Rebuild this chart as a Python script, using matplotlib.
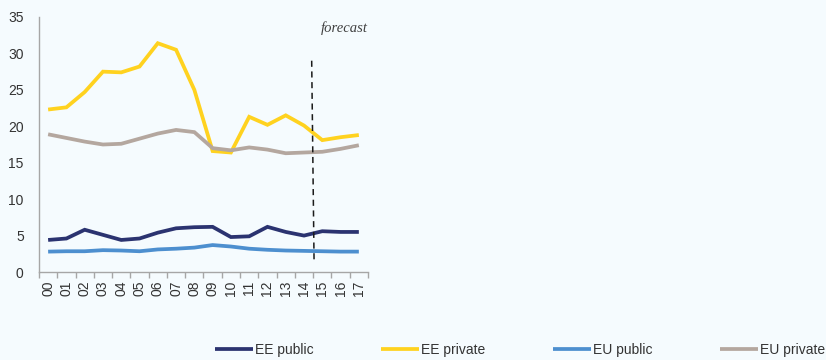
import matplotlib
matplotlib.use("Agg")
import matplotlib.pyplot as plt
from matplotlib.ticker import FixedLocator

plt.rcParams['font.family'] = ['Liberation Sans', 'DejaVu Sans']

years = ["00", "01", "02", "03", "04", "05", "06", "07", "08", "09",
         "10", "11", "12", "13", "14", "15", "16", "17"]

ee_public = [4.4, 4.6, 5.8, 5.1, 4.4, 4.6, 5.4, 6.0, 6.15, 6.2,
             4.8, 4.9, 6.2, 5.5, 5.0, 5.6, 5.5, 5.5]
ee_private = [22.3, 22.6, 24.7, 27.5, 27.4, 28.2, 31.4, 30.5, 25.0, 16.6,
              16.4, 21.3, 20.2, 21.5, 20.1, 18.1, 18.5, 18.8]
eu_public = [2.8, 2.85, 2.85, 3.0, 2.95, 2.85, 3.1, 3.2, 3.35, 3.7,
             3.5, 3.2, 3.05, 2.95, 2.9, 2.85, 2.8, 2.8]
eu_private = [18.9, 18.4, 17.9, 17.5, 17.6, 18.3, 19.0, 19.5, 19.2, 17.0,
              16.7, 17.1, 16.8, 16.3, 16.4, 16.5, 16.9, 17.4]

series = [
    ("EE public", ee_public, "#2B3370"),
    ("EE private", ee_private, "#FFD21F"),
    ("EU public", eu_public, "#4D8FCF"),
    ("EU private", eu_private, "#B4A79F"),
]

bg = "#F5FBFE"
text_col = "#333333"
spine_col = "#A6A6A6"

fig = plt.figure(figsize=(8.26, 3.6), dpi=100, facecolor=bg)
ax = fig.add_axes([0.0472, 0.2444, 0.3983, 0.7084], facecolor=bg)

x = list(range(len(years)))
handles = []
for name, vals, col in series:
    h, = ax.plot(x, vals, color=col, lw=2.7, solid_joinstyle="miter",
                 solid_capstyle="butt", label=name)
    handles.append(h)

# forecast boundary
ax.plot([14.42, 14.55], [29.0, 1.5], color="#1A1A1A", lw=1.1,
        linestyle=(0, (4, 3)))
ax.text(17.5, 33.5, "forecast", ha="right", va="center", fontsize=10.5,
        style="italic", family=["Liberation Serif", "DejaVu Serif"],
        color="#404040")

ax.set_xlim(-0.5, len(years) - 0.5)
ax.set_ylim(0, 35)
ax.set_yticks(range(0, 36, 5))
ax.tick_params(axis="y", length=0, labelsize=10, labelcolor=text_col, pad=11)

ax.set_xticks(x)
ax.set_xticklabels(years, rotation=90)
ax.xaxis.set_minor_locator(FixedLocator([i - 0.5 for i in range(len(years) + 1)]))
ax.tick_params(axis="x", which="major", length=0, labelsize=10,
               labelcolor=text_col, pad=6)
ax.tick_params(axis="x", which="minor", length=4, color=spine_col, width=1)

for s in ("top", "right"):
    ax.spines[s].set_visible(False)
for s in ("left", "bottom"):
    ax.spines[s].set_color(spine_col)
    ax.spines[s].set_linewidth(1)

leg = fig.legend(handles=handles, loc="center left",
                 bbox_to_anchor=(215 / 826, 0.028), ncol=4, frameon=False,
                 fontsize=10, handlelength=2.7, handletextpad=0.15,
                 columnspacing=4.9, borderpad=0, borderaxespad=0)
for t in leg.get_texts():
    t.set_color(text_col)

fig.savefig("out.png", dpi=100, facecolor=bg)
